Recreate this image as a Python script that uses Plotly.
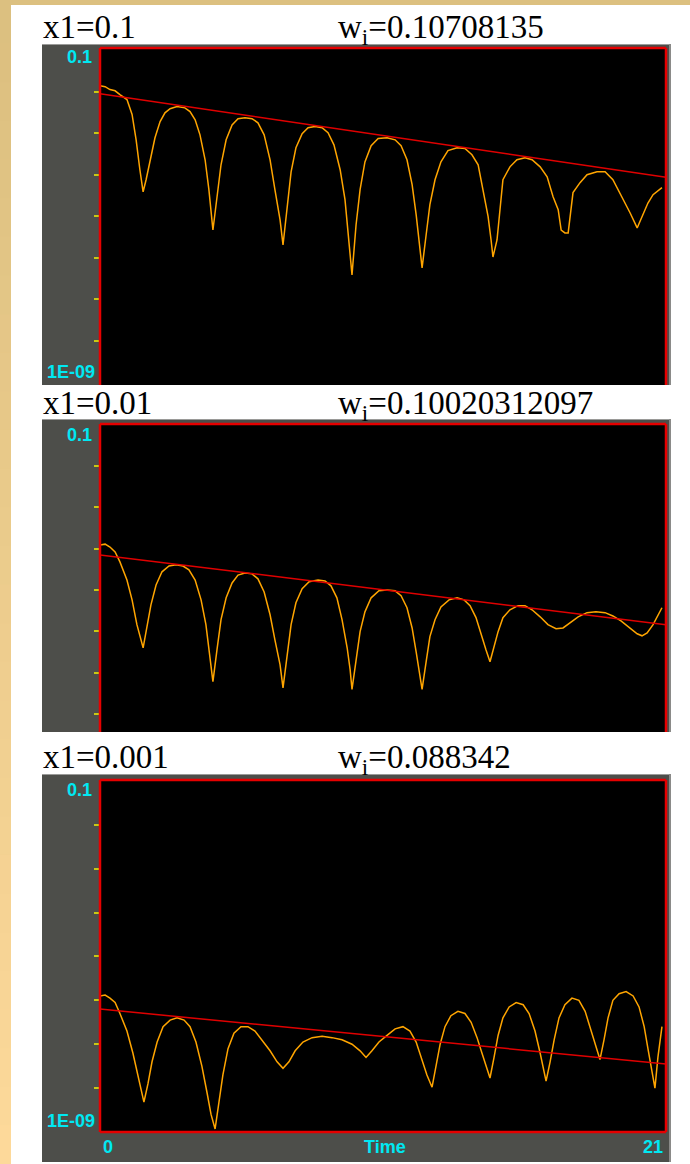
import plotly.graph_objects as go

# ---------------- data ----------------
panel_titles = ["x1=0.1", "x1=0.01", "x1=0.001"]
panel_rates = ["w<sub>i</sub>=0.10708135", "w<sub>i</sub>=0.10020312097", "w<sub>i</sub>=0.088342"]
x_tick_labels = ["0", "Time", "21"]
y_top_label = "0.1"
y_bottom_label = "1E-09"
decade_ticks = [1e-2, 1e-3, 1e-4, 1e-5, 1e-6, 1e-7, 1e-8]

# panel 1 (x1 = 0.1): time and log10 of the signal
p1_time = [0, 0.19, 0.37, 0.56, 0.74, 1.00, 1.19, 1.34, 1.48, 1.60,
           1.71, 1.86, 2.04, 2.23, 2.41, 2.60, 2.86, 3.15, 3.34, 3.53, 3.71, 3.90, 4.04, 4.19,
           4.34, 4.49, 4.68, 4.90, 5.12, 5.38, 5.64, 5.86, 6.09, 6.31, 6.49, 6.68, 6.79,
           6.94, 7.09, 7.27, 7.50, 7.72, 7.98, 8.24, 8.46, 8.68, 8.91, 9.09, 9.24, 9.35,
           9.50, 9.65, 9.83, 10.06, 10.32, 10.65, 10.95, 11.17, 11.39, 11.58, 11.73, 11.84, 11.95,
           12.10, 12.24, 12.43, 12.65, 12.91, 13.25, 13.54, 13.80, 14.03, 14.21, 14.40, 14.51, 14.58,
           14.73, 14.84, 14.95, 15.21, 15.47, 15.77, 16.03, 16.33, 16.59, 16.81, 17.00, 17.11, 17.25, 17.37,
           17.44, 17.55, 17.81, 18.07, 18.44, 18.74, 19.03, 19.29, 19.67, 19.93, 20.11, 20.33, 20.52, 20.85]
p1_log10 = [-1.86, -1.88, -1.95, -1.98, -2.07, -2.19, -2.55, -3.16, -3.88, -4.41,
            -4.12, -3.64, -3.11, -2.72, -2.51, -2.41, -2.36, -2.39, -2.48, -2.68, -3.04, -3.64, -4.36, -5.33,
            -4.48, -3.76, -3.16, -2.80, -2.65, -2.63, -2.65, -2.75, -3.04, -3.64, -4.36, -5.08, -5.69,
            -4.72, -3.93, -3.35, -3.01, -2.87, -2.84, -2.87, -2.99, -3.28, -3.88, -4.60, -5.57, -6.41,
            -5.21, -4.36, -3.69, -3.30, -3.13, -3.11, -3.16, -3.30, -3.64, -4.24, -4.96, -5.69, -6.24,
            -5.45, -4.72, -4.12, -3.69, -3.42, -3.35, -3.37, -3.52, -3.76, -4.36, -5.01, -5.57, -5.98,
            -5.57, -4.84, -4.12, -3.81, -3.64, -3.59, -3.64, -3.81, -4.05, -4.53, -4.84, -5.33, -5.40, -5.40,
            -5.01, -4.43, -4.19, -4.00, -3.93, -3.93, -4.12, -4.43, -4.92, -5.28, -5.01, -4.68, -4.48, -4.31]
fit1_time = [0, 21]
fit1_log10 = [-2.05, -4.06]

# panel 2 (x1 = 0.01)
p2_time = [0, 0.19, 0.37, 0.56, 0.74, 1.00, 1.19, 1.37, 1.60,
           1.74, 1.89, 2.08, 2.30, 2.56, 2.82, 3.08, 3.30, 3.53, 3.75, 3.93, 4.08, 4.19,
           4.34, 4.49, 4.68, 4.90, 5.12, 5.38, 5.64, 5.86, 6.09, 6.31, 6.49, 6.68, 6.79,
           6.94, 7.09, 7.27, 7.50, 7.76, 8.09, 8.35, 8.57, 8.79, 8.98, 9.17, 9.28, 9.35,
           9.50, 9.65, 9.83, 10.06, 10.35, 10.65, 10.95, 11.17, 11.39, 11.58, 11.73, 11.84, 11.95,
           12.10, 12.24, 12.43, 12.65, 12.95, 13.25, 13.51, 13.73, 13.95, 14.14, 14.32, 14.47,
           14.62, 14.77, 14.95, 15.21, 15.51, 15.77, 16.03, 16.33, 16.62, 16.92, 17.18, 17.44, 17.74,
           18.07, 18.40, 18.74, 19.03, 19.33, 19.67, 19.93, 20.11, 20.30, 20.52, 20.70, 20.85]
p2_log10 = [-3.91, -3.89, -3.96, -4.08, -4.32, -4.76, -5.24, -5.84, -6.40,
            -5.92, -5.36, -4.88, -4.56, -4.42, -4.39, -4.42, -4.51, -4.76, -5.24, -5.84, -6.57, -7.22,
            -6.45, -5.72, -5.19, -4.83, -4.64, -4.59, -4.61, -4.73, -5.05, -5.60, -6.21, -6.81, -7.37,
            -6.57, -5.84, -5.31, -4.97, -4.80, -4.76, -4.78, -4.90, -5.19, -5.72, -6.40, -6.93, -7.41,
            -6.69, -6.01, -5.53, -5.19, -5.02, -5.00, -5.02, -5.14, -5.43, -5.92, -6.50, -6.98, -7.41,
            -6.74, -6.13, -5.72, -5.41, -5.24, -5.19, -5.24, -5.38, -5.67, -6.09, -6.45, -6.74,
            -6.40, -6.01, -5.67, -5.48, -5.38, -5.38, -5.48, -5.65, -5.84, -5.94, -5.92, -5.80, -5.65,
            -5.55, -5.53, -5.55, -5.63, -5.75, -5.92, -6.06, -6.11, -6.04, -5.84, -5.63, -5.43]
fit2_time = [0, 21]
fit2_log10 = [-4.15, -5.84]

# panel 3 (x1 = 0.001)
p3_time = [0, 0.19, 0.37, 0.56, 0.74, 1.00, 1.22, 1.41, 1.63,
           1.78, 1.93, 2.12, 2.34, 2.60, 2.86, 3.12, 3.34, 3.56, 3.78, 3.97, 4.12, 4.27,
           4.42, 4.56, 4.75, 4.97, 5.23, 5.49, 5.75, 6.01, 6.31, 6.57, 6.79,
           7.01, 7.24, 7.53, 7.87, 8.24, 8.61, 8.98, 9.35, 9.65, 9.87,
           10.09, 10.35, 10.65, 10.95, 11.24, 11.50, 11.73, 11.91, 12.13, 12.32,
           12.47, 12.62, 12.80, 13.02, 13.28, 13.54, 13.77, 13.99, 14.17, 14.32, 14.47,
           14.62, 14.77, 14.95, 15.18, 15.44, 15.70, 15.92, 16.14, 16.33, 16.44, 16.55,
           16.70, 16.85, 17.03, 17.25, 17.51, 17.77, 18.00, 18.18, 18.37, 18.55,
           18.70, 18.85, 19.03, 19.26, 19.52, 19.78, 20.00, 20.19, 20.33, 20.48, 20.59, 20.70, 20.85]
p3_log10 = [-5.90, -5.88, -5.95, -6.05, -6.30, -6.70, -7.20, -7.70, -8.32,
            -7.90, -7.40, -6.95, -6.60, -6.45, -6.40, -6.45, -6.60, -6.95, -7.50, -8.10, -8.60, -8.93,
            -8.30, -7.70, -7.10, -6.75, -6.60, -6.60, -6.70, -6.90, -7.15, -7.40, -7.55,
            -7.40, -7.15, -6.95, -6.85, -6.82, -6.85, -6.90, -7.00, -7.15, -7.30,
            -7.15, -6.95, -6.80, -6.65, -6.60, -6.70, -6.95, -7.30, -7.70, -7.98,
            -7.50, -7.00, -6.60, -6.35, -6.25, -6.30, -6.50, -6.85, -7.20, -7.50, -7.77,
            -7.30, -6.80, -6.40, -6.15, -6.05, -6.10, -6.30, -6.70, -7.20, -7.50, -7.84,
            -7.40, -6.90, -6.40, -6.10, -5.95, -6.00, -6.25, -6.60, -7.00, -7.35,
            -6.90, -6.40, -6.00, -5.85, -5.80, -5.90, -6.15, -6.60, -7.10, -7.60, -8.00, -7.30, -6.60]
fit3_time = [0, 21]
fit3_log10 = [-6.20, -7.45]

time_range = [0, 21]

# ---------------- layout helpers (pixels -> paper) ----------------
W, H = 690, 1164
def px(x):
    return x / W
def py(y):
    return 1 - y / H

GRAY = "#4d4e4a"
RED = "#e60000"
ORANGE = "#ffa500"
FIT = "#e00000"
CYAN = "#00e8f2"
TICK = "#c8c814"
TAN_TOP = (220, 192, 128)
TAN_BOT = (253, 217, 154)

plot_left, plot_right = 100, 666
panels = [
    dict(t=p1_time, v=p1_log10, ft=fit1_time, fv=fit1_log10,
         top=48, bot=385, rng=[-9.06, -0.95], box=(44, 385),
         title_top=7, top_lab=57, bot_lab=372, bottom_border=False),
    dict(t=p2_time, v=p2_log10, ft=fit2_time, fv=fit2_log10,
         top=424, bot=732, rng=[-8.44, -0.98], box=(419, 732),
         title_top=383, top_lab=435, bot_lab=None, bottom_border=False),
    dict(t=p3_time, v=p3_log10, ft=fit3_time, fv=fit3_log10,
         top=780, bot=1132, rng=[-9.0, -0.98], box=(774, 1162),
         title_top=737, top_lab=790, bot_lab=1121, bottom_border=True),
]

fig = go.Figure()
shapes = []
annotations = []

# tan frame (top strip and left gradient strip)
shapes.append(dict(type="rect", xref="paper", yref="paper", x0=0, x1=1, y0=py(5), y1=1,
                   fillcolor="rgb(%d,%d,%d)" % TAN_TOP, line=dict(width=0), layer="below"))
nseg = 30
for k in range(nseg):
    f = k / (nseg - 1)
    c = tuple(int(TAN_TOP[i] + (TAN_BOT[i] - TAN_TOP[i]) * f) for i in range(3))
    y0 = 5 + (H - 5) * k / nseg
    y1 = 5 + (H - 5) * (k + 1) / nseg
    shapes.append(dict(type="rect", xref="paper", yref="paper", x0=0, x1=px(11),
                       y0=py(y1 + 1), y1=py(y0), fillcolor="rgb(%d,%d,%d)" % c,
                       line=dict(width=0), layer="below"))

title_font = dict(family="Liberation Serif", size=33, color="black")
lab_font = dict(family="Liberation Sans", size=18, color=CYAN, weight="bold")

for i, p in enumerate(panels):
    n = "" if i == 0 else str(i + 1)
    xa, ya = "x" + n, "y" + n
    # gray panel
    b0, b1 = p["box"]
    shapes.append(dict(type="rect", xref="paper", yref="paper", x0=px(42), x1=px(671),
                       y0=py(b1), y1=py(b0), fillcolor=GRAY, line=dict(width=0), layer="below"))
    shapes.append(dict(type="line", xref="paper", yref="paper", x0=px(42), x1=px(671),
                       y0=py(b0 + 0.5), y1=py(b0 + 0.5), line=dict(color="#9a9a98", width=1), layer="below"))
    shapes.append(dict(type="line", xref="paper", yref="paper", x0=px(670), x1=px(670),
                       y0=py(b1), y1=py(b0), line=dict(color="#8a8a88", width=2), layer="below"))
    # black plot area
    shapes.append(dict(type="rect", xref=xa + " domain", yref=ya + " domain", x0=0, x1=1, y0=0, y1=1,
                       fillcolor="black", line=dict(width=0), layer="below"))
    # red borders
    edges = [(0, 0, 0, 1), (1, 1, 0, 1), (0, 1, 1, 1)]
    if p["bottom_border"]:
        edges.append((0, 1, 0, 0))
    for (x0, x1, y0, y1) in edges:
        shapes.append(dict(type="line", xref=xa + " domain", yref=ya + " domain",
                           x0=x0, x1=x1, y0=y0, y1=y1, line=dict(color=RED, width=2.5), layer="above"))

    fig.add_trace(go.Scatter(x=p["t"], y=[10 ** v for v in p["v"]], mode="lines",
                             line=dict(color=ORANGE, width=1.5), xaxis=xa, yaxis=ya,
                             showlegend=False, hoverinfo="skip"))
    fig.add_trace(go.Scatter(x=p["ft"], y=[10 ** v for v in p["fv"]], mode="lines",
                             line=dict(color=FIT, width=1.5), xaxis=xa, yaxis=ya,
                             showlegend=False, hoverinfo="skip"))

    dom_y = [py(p["bot"]), py(p["top"])]
    fig.update_layout(**{
        "xaxis" + n: dict(domain=[px(plot_left), px(plot_right)], range=time_range,
                          visible=False, anchor=ya),
        "yaxis" + n: dict(domain=dom_y, type="log", range=p["rng"], anchor=xa,
                          tickvals=decade_ticks, ticks="outside", ticklen=5, tickwidth=2,
                          tickcolor=TICK, showticklabels=False, showgrid=False,
                          zeroline=False, showline=False),
    })

    # titles
    annotations.append(dict(text=panel_titles[i], xref="paper", yref="paper",
                            x=px(41), y=py(p["title_top"]), xanchor="left", yanchor="top",
                            showarrow=False, font=title_font))
    annotations.append(dict(text=panel_rates[i], xref="paper", yref="paper",
                            x=px(336), y=py(p["title_top"]), xanchor="left", yanchor="top",
                            showarrow=False, font=title_font))
    # cyan axis labels
    annotations.append(dict(text=y_top_label, xref="paper", yref="paper",
                            x=px(93), y=py(p["top_lab"]), xanchor="right", yanchor="middle",
                            showarrow=False, font=lab_font, borderpad=0))
    if p["bot_lab"] is not None:
        annotations.append(dict(text=y_bottom_label, xref="paper", yref="paper",
                                x=px(96), y=py(p["bot_lab"]), xanchor="right", yanchor="middle",
                                showarrow=False, font=lab_font, borderpad=0))

for txt, xp, anc in zip(x_tick_labels, [102, 385, 664], ["left", "center", "right"]):
    annotations.append(dict(text=txt, xref="paper", yref="paper",
                            x=px(xp), y=py(1147), xanchor=anc, yanchor="middle",
                            showarrow=False, font=lab_font, borderpad=0))

fig.update_layout(width=W, height=H, autosize=False,
                  margin=dict(l=0, r=0, t=0, b=0),
                  paper_bgcolor="white", plot_bgcolor="black",
                  shapes=shapes, annotations=annotations, showlegend=False)

fig.write_html("out.html")
